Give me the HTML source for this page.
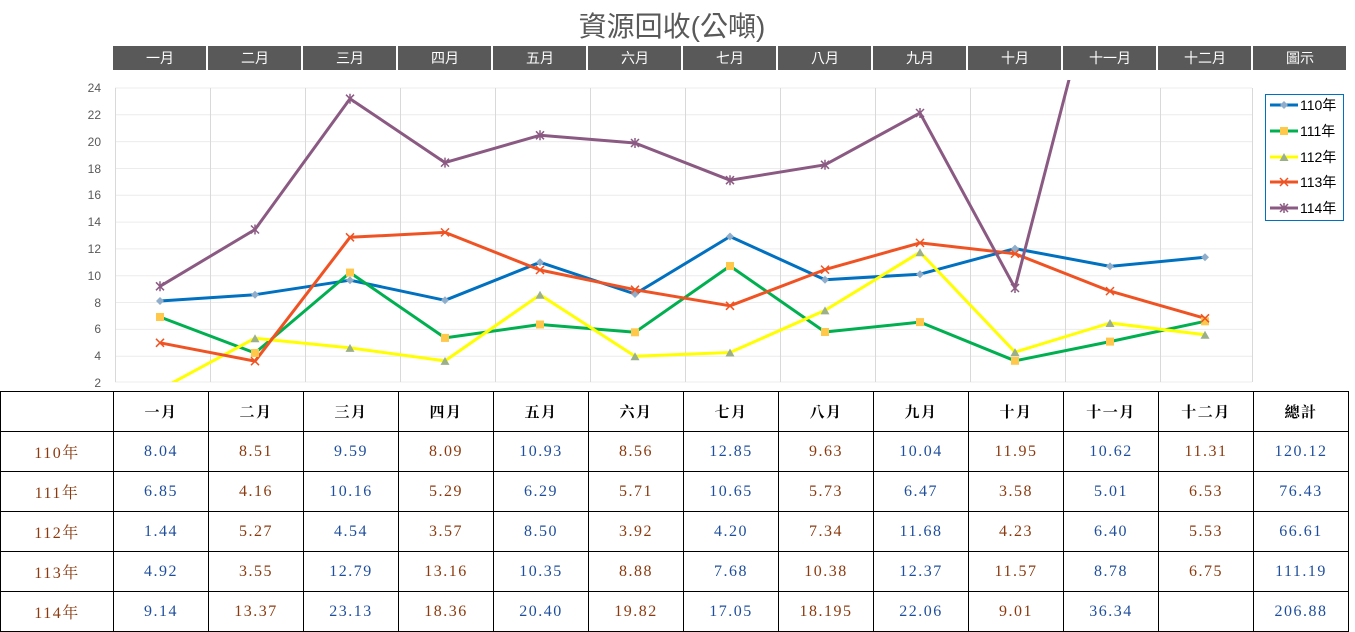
<!DOCTYPE html>
<html><head><meta charset="utf-8"><style>
body{margin:0;width:1355px;height:632px;background:#fff;overflow:hidden;position:relative}
svg{position:absolute;left:0;top:0}
table{position:absolute;left:0;top:391px;border-collapse:collapse;table-layout:fixed;width:1348px;font-family:"Liberation Serif","Noto Serif CJK TC",serif;font-size:16px;letter-spacing:1.5px}
td{border:1.5px solid #000;height:39px;text-align:center;padding:0}
tr.h td{font-weight:bold;color:#000;font-size:15px}
td.b{color:#1f4e9c}td.r{color:#8b3a0f}
</style></head><body>
<svg width="1355" height="392" font-family="Liberation Sans,'Noto Sans CJK TC',sans-serif">
<text x="672" y="36" text-anchor="middle" font-size="28" fill="#595959">資源回收(公噸)</text>
<g fill="#595959">
<rect x="113" y="46" width="93" height="24"/><rect x="208" y="46" width="93" height="24"/><rect x="303" y="46" width="93" height="24"/><rect x="398" y="46" width="93" height="24"/><rect x="493" y="46" width="93" height="24"/><rect x="588" y="46" width="93" height="24"/><rect x="683" y="46" width="93" height="24"/><rect x="778" y="46" width="93" height="24"/><rect x="873" y="46" width="93" height="24"/><rect x="968" y="46" width="93" height="24"/><rect x="1063" y="46" width="93" height="24"/><rect x="1158" y="46" width="93" height="24"/><rect x="1253" y="46" width="93" height="24"/>
</g>
<g fill="#fff" font-size="14" text-anchor="middle">
<text x="160" y="63">一月</text><text x="255" y="63">二月</text><text x="350" y="63">三月</text><text x="445" y="63">四月</text><text x="540" y="63">五月</text><text x="635" y="63">六月</text><text x="730" y="63">七月</text><text x="825" y="63">八月</text><text x="920" y="63">九月</text><text x="1015" y="63">十月</text><text x="1110" y="63">十一月</text><text x="1205" y="63">十二月</text><text x="1300" y="63">圖示</text>
</g>
<g stroke="#ececec" stroke-width="1">
<line x1="115" x2="1252" y1="88" y2="88"/><line x1="115" x2="1252" y1="114.8" y2="114.8"/><line x1="115" x2="1252" y1="141.6" y2="141.6"/><line x1="115" x2="1252" y1="168.5" y2="168.5"/><line x1="115" x2="1252" y1="195.3" y2="195.3"/><line x1="115" x2="1252" y1="222.1" y2="222.1"/><line x1="115" x2="1252" y1="248.9" y2="248.9"/><line x1="115" x2="1252" y1="275.7" y2="275.7"/><line x1="115" x2="1252" y1="302.5" y2="302.5"/><line x1="115" x2="1252" y1="329.4" y2="329.4"/><line x1="115" x2="1252" y1="356.2" y2="356.2"/><line x1="115" x2="1252" y1="382" y2="382"/>
</g>
<g stroke="#d9d9d9" stroke-width="1">
<line x1="115.5" x2="115.5" y1="88" y2="382"/><line x1="210.5" x2="210.5" y1="88" y2="382"/><line x1="305.5" x2="305.5" y1="88" y2="382"/><line x1="400.5" x2="400.5" y1="88" y2="382"/><line x1="495.5" x2="495.5" y1="88" y2="382"/><line x1="590.5" x2="590.5" y1="88" y2="382"/><line x1="685.5" x2="685.5" y1="88" y2="382"/><line x1="780.5" x2="780.5" y1="88" y2="382"/><line x1="875.5" x2="875.5" y1="88" y2="382"/><line x1="970.5" x2="970.5" y1="88" y2="382"/><line x1="1065.5" x2="1065.5" y1="88" y2="382"/><line x1="1160.5" x2="1160.5" y1="88" y2="382"/><line x1="1252.5" x2="1252.5" y1="88" y2="382"/>
</g>
<g font-size="12" fill="#595959" text-anchor="end">
<text x="101" y="92">24</text><text x="101" y="119">22</text><text x="101" y="146">20</text><text x="101" y="173">18</text><text x="101" y="199">16</text><text x="101" y="226">14</text><text x="101" y="253">12</text><text x="101" y="280">10</text><text x="101" y="307">8</text><text x="101" y="333">6</text><text x="101" y="360">4</text><text x="101" y="387">2</text>
</g>
<defs><clipPath id="c"><rect x="115" y="80" width="1140" height="302"/></clipPath>
<path id="x1" d="M-4,-4L4,4M-4,4L4,-4" stroke="#f05323" stroke-width="1.5" fill="none"/>
<path id="x2" d="M-4,-4L4,4M-4,4L4,-4M0,-5V5" stroke="#8b5a83" stroke-width="1.5" fill="none"/>
</defs>
<g clip-path="url(#c)" fill="none" stroke-width="3" stroke-linejoin="round">
<polyline stroke="#0070c0" points="160,301 255,294.7 350,280.2 445,300.3 540,262.3 635,294 730,236.5 825,279.7 920,274.2 1015,248.6 1110,266.4 1205,257.2"/>
<polyline stroke="#00b050" points="160,317 255,353 350,272.6 445,337.9 540,324.5 635,332.3 730,266 825,332 920,322.1 1015,360.8 1110,341.6 1205,321.3"/>
<polyline stroke="#ffff00" points="160,389.5 255,338.2 350,347.9 445,360.9 540,294.8 635,356.3 730,352.5 825,310.4 920,252.2 1015,352.1 1110,323 1205,334.7"/>
<polyline stroke="#f05323" points="160,342.8 255,361.2 350,237.3 445,232.4 540,270 635,289.7 730,305.8 825,269.6 920,242.9 1015,253.7 1110,291.1 1205,318.3"/>
<polyline stroke="#8b5a83" points="160,286.3 255,229.5 350,98.7 445,162.6 540,135.3 635,143 730,180.2 825,164.8 920,113 1015,288 1110,-78.5"/>
</g>
<g clip-path="url(#c)">
<g fill="#8eaecb"><path d="M160,297l4,4-4,4-4-4z"/><path d="M255,290.7l4,4-4,4-4-4z"/><path d="M350,276.2l4,4-4,4-4-4z"/><path d="M445,296.3l4,4-4,4-4-4z"/><path d="M540,258.3l4,4-4,4-4-4z"/><path d="M635,290l4,4-4,4-4-4z"/><path d="M730,232.5l4,4-4,4-4-4z"/><path d="M825,275.7l4,4-4,4-4-4z"/><path d="M920,270.2l4,4-4,4-4-4z"/><path d="M1015,244.6l4,4-4,4-4-4z"/><path d="M1110,262.4l4,4-4,4-4-4z"/><path d="M1205,253.2l4,4-4,4-4-4z"/></g>
<g fill="#ffc84a"><rect x="156" y="313" width="8" height="8"/><rect x="251" y="349" width="8" height="8"/><rect x="346" y="268.6" width="8" height="8"/><rect x="441" y="333.9" width="8" height="8"/><rect x="536" y="320.5" width="8" height="8"/><rect x="631" y="328.3" width="8" height="8"/><rect x="726" y="262" width="8" height="8"/><rect x="821" y="328" width="8" height="8"/><rect x="916" y="318.1" width="8" height="8"/><rect x="1011" y="356.8" width="8" height="8"/><rect x="1106" y="337.6" width="8" height="8"/><rect x="1201" y="317.3" width="8" height="8"/></g>
<g fill="#9bb08a"><path d="M255,334.2l4.5,8h-9z"/><path d="M350,343.9l4.5,8h-9z"/><path d="M445,356.9l4.5,8h-9z"/><path d="M540,290.8l4.5,8h-9z"/><path d="M635,352.3l4.5,8h-9z"/><path d="M730,348.5l4.5,8h-9z"/><path d="M825,306.4l4.5,8h-9z"/><path d="M920,248.2l4.5,8h-9z"/><path d="M1015,348.1l4.5,8h-9z"/><path d="M1110,319l4.5,8h-9z"/><path d="M1205,330.7l4.5,8h-9z"/></g>
<use href="#x1" x="160" y="342.8"/><use href="#x1" x="255" y="361.2"/><use href="#x1" x="350" y="237.3"/><use href="#x1" x="445" y="232.4"/><use href="#x1" x="540" y="270"/><use href="#x1" x="635" y="289.7"/><use href="#x1" x="730" y="305.8"/><use href="#x1" x="825" y="269.6"/><use href="#x1" x="920" y="242.9"/><use href="#x1" x="1015" y="253.7"/><use href="#x1" x="1110" y="291.1"/><use href="#x1" x="1205" y="318.3"/>
<use href="#x2" x="160" y="286.3"/><use href="#x2" x="255" y="229.5"/><use href="#x2" x="350" y="98.7"/><use href="#x2" x="445" y="162.6"/><use href="#x2" x="540" y="135.3"/><use href="#x2" x="635" y="143"/><use href="#x2" x="730" y="180.2"/><use href="#x2" x="825" y="164.8"/><use href="#x2" x="920" y="113"/><use href="#x2" x="1015" y="288"/>
</g>
<rect x="1265.5" y="94.5" width="78" height="126" fill="#fff" stroke="#0070c0"/>
<g stroke-width="3"><line x1="1270" x2="1298" y1="105" y2="105" stroke="#0070c0"/><line x1="1270" x2="1298" y1="131" y2="131" stroke="#00b050"/><line x1="1270" x2="1298" y1="157" y2="157" stroke="#ffff00"/><line x1="1270" x2="1298" y1="182" y2="182" stroke="#f05323"/><line x1="1270" x2="1298" y1="208" y2="208" stroke="#8b5a83"/></g>
<path d="M1284,101l4,4-4,4-4-4z" fill="#8eaecb"/><rect x="1280" y="127" width="8" height="8" fill="#ffc84a"/><path d="M1284,153l4.5,8h-9z" fill="#9bb08a"/>
<use href="#x1" x="1284" y="182"/><use href="#x2" x="1284" y="208"/>
<g font-size="14" fill="#000"><text x="1300" y="110">110年</text><text x="1300" y="136">111年</text><text x="1300" y="162">112年</text><text x="1300" y="187">113年</text><text x="1300" y="213">114年</text></g>
</svg>
<table>
<colgroup><col style="width:113px"><col style="width:95px"><col style="width:95px"><col style="width:95px"><col style="width:95px"><col style="width:95px"><col style="width:95px"><col style="width:95px"><col style="width:95px"><col style="width:95px"><col style="width:95px"><col style="width:95px"><col style="width:95px"><col style="width:95px"></colgroup>
<tr class="h"><td></td><td>一月</td><td>二月</td><td>三月</td><td>四月</td><td>五月</td><td>六月</td><td>七月</td><td>八月</td><td>九月</td><td>十月</td><td>十一月</td><td>十二月</td><td>總計</td></tr>
<tr><td class="r">110年</td><td class="b">8.04</td><td class="r">8.51</td><td class="b">9.59</td><td class="r">8.09</td><td class="b">10.93</td><td class="r">8.56</td><td class="b">12.85</td><td class="r">9.63</td><td class="b">10.04</td><td class="r">11.95</td><td class="b">10.62</td><td class="r">11.31</td><td class="b">120.12</td></tr>
<tr><td class="r">111年</td><td class="b">6.85</td><td class="r">4.16</td><td class="b">10.16</td><td class="r">5.29</td><td class="b">6.29</td><td class="r">5.71</td><td class="b">10.65</td><td class="r">5.73</td><td class="b">6.47</td><td class="r">3.58</td><td class="b">5.01</td><td class="r">6.53</td><td class="b">76.43</td></tr>
<tr><td class="r">112年</td><td class="b">1.44</td><td class="r">5.27</td><td class="b">4.54</td><td class="r">3.57</td><td class="b">8.50</td><td class="r">3.92</td><td class="b">4.20</td><td class="r">7.34</td><td class="b">11.68</td><td class="r">4.23</td><td class="b">6.40</td><td class="r">5.53</td><td class="b">66.61</td></tr>
<tr><td class="r">113年</td><td class="b">4.92</td><td class="r">3.55</td><td class="b">12.79</td><td class="r">13.16</td><td class="b">10.35</td><td class="r">8.88</td><td class="b">7.68</td><td class="r">10.38</td><td class="b">12.37</td><td class="r">11.57</td><td class="b">8.78</td><td class="r">6.75</td><td class="b">111.19</td></tr>
<tr><td class="r">114年</td><td class="b">9.14</td><td class="r">13.37</td><td class="b">23.13</td><td class="r">18.36</td><td class="b">20.40</td><td class="r">19.82</td><td class="b">17.05</td><td class="r">18.195</td><td class="b">22.06</td><td class="r">9.01</td><td class="b">36.34</td><td class="r"></td><td class="b">206.88</td></tr>
</table>
</body></html>
